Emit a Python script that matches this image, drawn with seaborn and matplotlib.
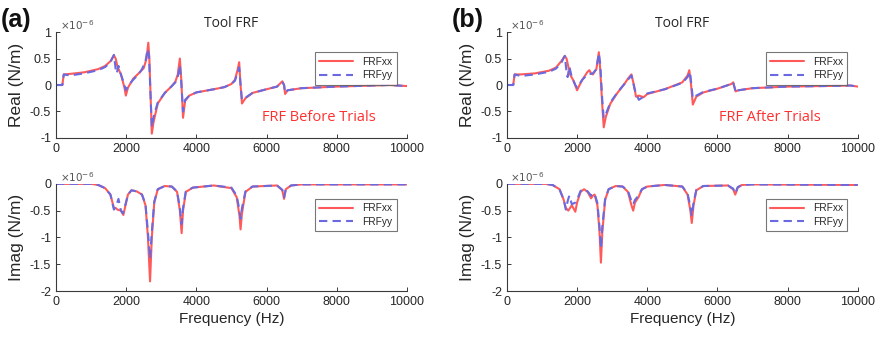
import numpy as np
import pandas as pd
import matplotlib
matplotlib.use("Agg")
import matplotlib.pyplot as plt
import seaborn as sns

# ---------------- data (values in 1e-6 N/m) ----------------
# Panel (a) - Real
fa_re_xx = [0, 180, 220, 400, 800, 1200, 1400, 1550, 1650, 1700, 1750, 1850, 1950, 1990, 2050, 2200, 2400, 2500, 2580, 2630, 2660, 2700, 2730, 2780, 2900, 3100, 3300, 3400, 3470, 3530, 3570, 3620, 3680, 3800, 4000, 4500, 4800, 5000, 5100, 5180, 5220, 5260, 5300, 5400, 5600, 6000, 6300, 6450, 6500, 6530, 6600, 7000, 8000, 9000, 9500, 10000]
va_re_xx = [0, 0, 0.2, 0.21, 0.24, 0.3, 0.36, 0.45, 0.56, 0.5, 0.35, 0.2, -0.05, -0.2, -0.05, 0.12, 0.25, 0.32, 0.5, 0.8, 0.5, -0.3, -0.92, -0.7, -0.35, -0.15, -0.02, 0.06, 0.2, 0.5, 0.1, -0.62, -0.3, -0.2, -0.14, -0.08, -0.04, 0.02, 0.1, 0.3, 0.43, 0.0, -0.35, -0.25, -0.15, -0.08, -0.03, 0.07, 0.0, -0.17, -0.1, -0.06, -0.03, -0.01, 0.0, -0.02]
fa_re_yy = [0, 180, 220, 400, 800, 1200, 1400, 1550, 1650, 1700, 1730, 1780, 1850, 1950, 1990, 2050, 2200, 2350, 2450, 2550, 2610, 2650, 2700, 2730, 2780, 2900, 3100, 3300, 3400, 3470, 3530, 3570, 3620, 3680, 3800, 4000, 4500, 4800, 5000, 5100, 5180, 5220, 5260, 5300, 5400, 5600, 6000, 6300, 6450, 6500, 6530, 6600, 7000, 8000, 9000, 9500, 10000]
va_re_yy = [0, 0, 0.2, 0.18, 0.22, 0.28, 0.34, 0.43, 0.57, 0.3, 0.22, 0.36, 0.2, 0.0, -0.1, -0.02, 0.1, 0.2, 0.3, 0.45, 0.68, 0.55, -0.3, -0.8, -0.6, -0.33, -0.15, -0.02, 0.05, 0.15, 0.38, 0.05, -0.5, -0.28, -0.2, -0.14, -0.08, -0.04, 0.02, 0.08, 0.25, 0.33, 0.0, -0.28, -0.24, -0.15, -0.08, -0.03, 0.06, 0.0, -0.15, -0.1, -0.06, -0.03, -0.01, 0.0, -0.02]

# Panel (a) - Imag
fa_im_xx = [0, 1000, 1200, 1400, 1550, 1650, 1700, 1750, 1850, 1920, 1980, 2050, 2150, 2300, 2450, 2550, 2620, 2680, 2730, 2800, 2900, 3100, 3300, 3450, 3530, 3580, 3620, 3700, 3900, 4500, 5000, 5150, 5230, 5260, 5300, 5400, 5600, 6300, 6450, 6500, 6550, 6700, 7000, 10000]
va_im_xx = [0, 0, -0.02, -0.08, -0.2, -0.45, -0.45, -0.48, -0.5, -0.58, -0.4, -0.2, -0.12, -0.14, -0.2, -0.4, -1.0, -1.82, -1.0, -0.35, -0.1, -0.04, -0.05, -0.15, -0.5, -0.92, -0.5, -0.15, -0.07, -0.03, -0.08, -0.25, -0.6, -0.85, -0.55, -0.15, -0.05, -0.03, -0.12, -0.28, -0.1, -0.03, -0.01, -0.01]
fa_im_yy = [0, 1000, 1200, 1400, 1550, 1650, 1720, 1780, 1850, 1900, 1980, 2050, 2150, 2300, 2450, 2550, 2620, 2680, 2730, 2800, 2900, 3100, 3300, 3450, 3530, 3580, 3620, 3700, 3900, 4500, 5000, 5150, 5230, 5260, 5300, 5400, 5600, 6300, 6450, 6500, 6550, 6700, 7000, 10000]
va_im_yy = [0, 0, -0.02, -0.08, -0.2, -0.48, -0.4, -0.28, -0.5, -0.55, -0.38, -0.2, -0.12, -0.14, -0.2, -0.38, -0.9, -1.4, -0.9, -0.33, -0.1, -0.04, -0.05, -0.14, -0.45, -0.75, -0.45, -0.14, -0.07, -0.03, -0.07, -0.22, -0.5, -0.65, -0.45, -0.14, -0.05, -0.03, -0.11, -0.25, -0.1, -0.03, -0.01, -0.01]

# Panel (b) - Real
fb_re_xx = [0, 180, 220, 400, 800, 1200, 1400, 1550, 1650, 1700, 1750, 1800, 1900, 2000, 2050, 2150, 2300, 2350, 2400, 2450, 2550, 2620, 2660, 2720, 2760, 2820, 2950, 3150, 3350, 3450, 3550, 3620, 3680, 3760, 3900, 4000, 4500, 5000, 5150, 5200, 5250, 5300, 5400, 5600, 6000, 6400, 6450, 6520, 6600, 7000, 8000, 9000, 9800, 10000]
vb_re_xx = [0, 0, 0.2, 0.2, 0.22, 0.27, 0.33, 0.45, 0.55, 0.5, 0.35, 0.2, 0.08, -0.1, -0.03, 0.1, 0.25, 0.28, 0.22, 0.2, 0.3, 0.62, 0.3, -0.4, -0.8, -0.6, -0.35, -0.15, 0.02, 0.12, 0.2, 0.0, -0.22, -0.2, -0.23, -0.17, -0.08, 0.05, 0.18, 0.28, 0.0, -0.37, -0.22, -0.14, -0.07, 0.02, 0.05, -0.12, -0.1, -0.06, -0.03, -0.02, -0.01, -0.03]
fb_re_yy = [0, 180, 220, 400, 800, 1200, 1400, 1550, 1650, 1700, 1730, 1780, 1850, 1950, 2000, 2150, 2300, 2450, 2550, 2620, 2660, 2720, 2760, 2820, 2950, 3150, 3350, 3450, 3550, 3650, 3760, 3900, 4000, 4500, 5000, 5150, 5220, 5260, 5300, 5400, 5600, 6000, 6400, 6450, 6530, 6600, 7000, 8000, 9000, 9800, 10000]
vb_re_yy = [0, 0, 0.2, 0.17, 0.2, 0.25, 0.31, 0.42, 0.55, 0.25, 0.15, 0.35, 0.15, 0.0, -0.05, 0.1, 0.2, 0.22, 0.3, 0.6, 0.4, -0.3, -0.62, -0.55, -0.33, -0.14, 0.02, 0.1, 0.18, -0.1, -0.28, -0.22, -0.16, -0.08, 0.04, 0.15, 0.25, 0.0, -0.25, -0.2, -0.13, -0.07, 0.02, 0.05, -0.15, -0.1, -0.06, -0.03, -0.02, -0.01, -0.03]

# Panel (b) - Imag
fb_im_xx = [0, 1100, 1300, 1500, 1620, 1680, 1750, 1850, 1950, 2000, 2100, 2200, 2300, 2400, 2450, 2500, 2580, 2640, 2680, 2720, 2800, 2900, 3100, 3300, 3450, 3550, 3600, 3650, 3750, 3850, 4000, 4500, 5000, 5150, 5230, 5270, 5320, 5400, 5600, 6300, 6450, 6510, 6580, 6700, 7000, 10000]
vb_im_xx = [0, 0, -0.02, -0.1, -0.3, -0.45, -0.5, -0.4, -0.52, -0.35, -0.15, -0.1, -0.15, -0.27, -0.22, -0.2, -0.4, -0.9, -1.47, -0.9, -0.3, -0.1, -0.04, -0.05, -0.15, -0.4, -0.5, -0.35, -0.25, -0.1, -0.05, -0.02, -0.05, -0.2, -0.5, -0.73, -0.4, -0.12, -0.04, -0.03, -0.1, -0.2, -0.07, -0.02, -0.01, -0.02]
fb_im_yy = [0, 1100, 1300, 1500, 1620, 1680, 1740, 1780, 1850, 1950, 2000, 2100, 2200, 2300, 2400, 2450, 2500, 2580, 2640, 2680, 2720, 2800, 2900, 3100, 3300, 3450, 3550, 3600, 3650, 3750, 3850, 4000, 4500, 5000, 5150, 5230, 5270, 5320, 5400, 5600, 6300, 6450, 6510, 6580, 6700, 7000, 10000]
vb_im_yy = [0, 0, -0.02, -0.1, -0.3, -0.48, -0.3, -0.22, -0.38, -0.35, -0.3, -0.13, -0.1, -0.14, -0.22, -0.2, -0.18, -0.36, -0.8, -1.2, -0.8, -0.28, -0.1, -0.04, -0.05, -0.13, -0.32, -0.38, -0.3, -0.22, -0.1, -0.05, -0.02, -0.05, -0.18, -0.42, -0.6, -0.35, -0.11, -0.04, -0.03, -0.09, -0.18, -0.06, -0.02, -0.01, -0.02]

series_labels = ["FRFxx", "FRFyy"]
panel_labels = ["(a)", "(b)"]
notes = ["FRF Before Trials", "FRF After Trials"]
x_ticks = [0, 2000, 4000, 6000, 8000, 10000]
real_ticks = [-1, -0.5, 0, 0.5, 1]
imag_ticks = [-2, -1.5, -1, -0.5, 0]

# ---------------- style ----------------
sns.set_theme(style="white")
plt.rcParams['font.family'] = ['Liberation Sans', 'DejaVu Sans']
RED = "#ff5a5a"
BLUE = "#6a6ae0"
GREY = "#262626"

fig = plt.figure(figsize=(8.77, 3.38), dpi=100)

panels = {
    0: dict(left=0.0639, re=[fa_re_xx, va_re_xx, fa_re_yy, va_re_yy], im=[fa_im_xx, va_im_xx, fa_im_yy, va_im_yy]),
    1: dict(left=0.578, re=[fb_re_xx, vb_re_xx, fb_re_yy, vb_re_yy], im=[fb_im_xx, vb_im_xx, fb_im_yy, vb_im_yy]),
}

def style_axis(ax, yticks, ylim, ylabel):
    ax.set_xlim(0, 10000)
    ax.set_ylim(*ylim)
    ax.set_xticks(x_ticks)
    ax.set_xticklabels([str(t) for t in x_ticks])
    ax.set_yticks(yticks)
    ax.set_yticklabels([("%g" % t) for t in yticks])
    for s in ["top", "right"]:
        ax.spines[s].set_visible(False)
    for s in ["left", "bottom"]:
        ax.spines[s].set_color("#3a3a3a")
        ax.spines[s].set_linewidth(0.8)
    ax.tick_params(axis="both", direction="in", length=3, width=0.7, colors="#3a3a3a",
                   labelsize=9, labelcolor=GREY, bottom=True, left=True)
    ax.set_ylabel(ylabel, fontsize=12.5, color=GREY, labelpad=4)
    ax.set_xlabel("")
    ax.text(0.01, 1.0, r"$\times10^{-6}$", transform=ax.transAxes, fontsize=7.5,
            color="#555555", ha="left", va="bottom")

def draw(ax, arrs, anchor):
    fx, vx, fy, vy = arrs
    dfx = pd.DataFrame({"f": fx, "v": vx})
    dfy = pd.DataFrame({"f": fy, "v": vy})
    sns.lineplot(data=dfx, x="f", y="v", ax=ax, color=RED, linewidth=1.5,
                 estimator=None, sort=False, label=series_labels[0])
    sns.lineplot(data=dfy, x="f", y="v", ax=ax, color=BLUE, linewidth=1.5,
                 linestyle=(0, (4, 2.5)), estimator=None, sort=False, label=series_labels[1])
    leg = ax.legend(loc="upper right", bbox_to_anchor=anchor, fontsize=7.3,
                    frameon=True, fancybox=False, handlelength=3.3, borderpad=0.45,
                    labelspacing=0.35, handletextpad=0.9, markerfirst=True)
    leg.get_frame().set_edgecolor("#555555")
    leg.get_frame().set_linewidth(0.8)
    for t in leg.get_texts():
        t.set_color(GREY)

for i in range(2):
    p = panels[i]
    left = p["left"]
    ax1 = fig.add_axes([left, 0.592, 0.400, 0.313])
    draw(ax1, p["re"], (0.985, 0.86))
    style_axis(ax1, real_ticks, (-1, 1), "Real (N/m)")
    ax1.set_title("Tool FRF", fontsize=10, color=GREY, family="Open Sans", pad=4)
    ax1.text(0.75, 0.19, notes[i], transform=ax1.transAxes, color="#ff3030",
             fontsize=10.5, family="Open Sans", ha="center", va="center")
    fig.text(left - 0.063, 0.975, panel_labels[i], fontsize=18, fontweight="bold",
             color="#111111", ha="left", va="top")

    ax2 = fig.add_axes([left, 0.139, 0.400, 0.317])
    draw(ax2, p["im"], (0.985, 0.91))
    style_axis(ax2, imag_ticks, (-2, 0), "Imag (N/m)")
    ax2.set_xlabel("Frequency (Hz)", fontsize=11, color=GREY, labelpad=3)

fig.savefig("out.png", dpi=100, facecolor="white")
